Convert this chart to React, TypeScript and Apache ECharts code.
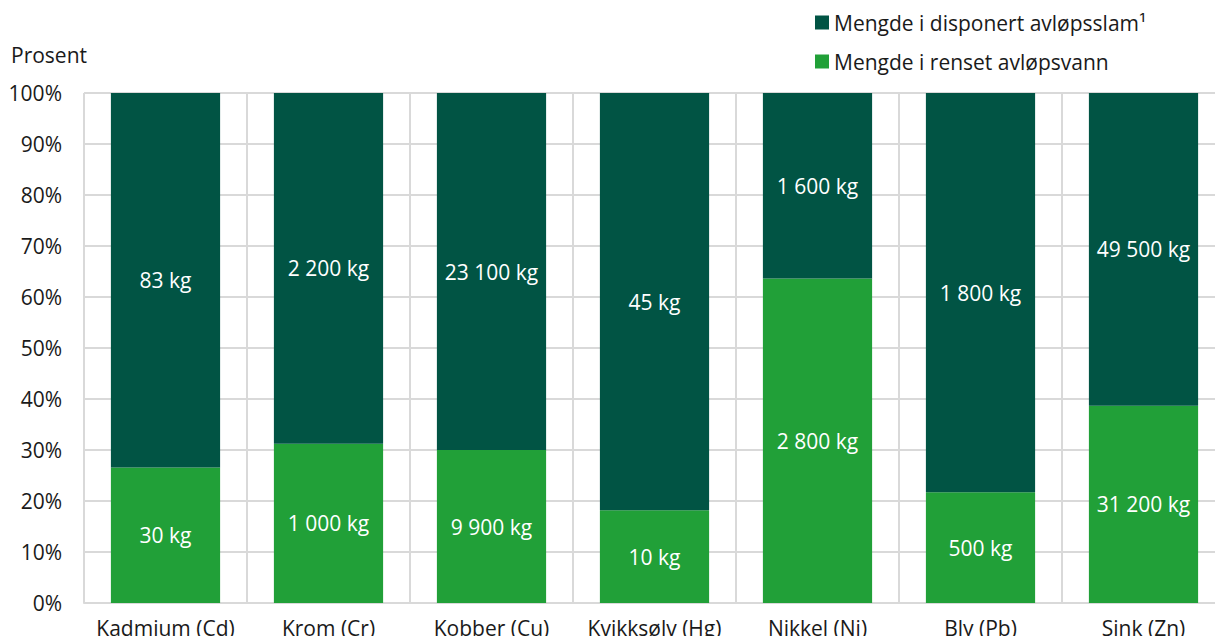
import React, { useEffect, useRef } from "react";
import * as echarts from "echarts";

const categories = [
  "Kadmium (Cd)",
  "Krom (Cr)",
  "Kobber (Cu)",
  "Kvikksølv (Hg)",
  "Nikkel (Ni)",
  "Bly (Pb)",
  "Sink (Zn)",
];
const sludgeKg = [83, 2200, 23100, 45, 1600, 1800, 49500];
const waterKg = [30, 1000, 9900, 10, 2800, 500, 31200];
const sludgeName = "Mengde i disponert avløpsslam¹";
const waterName = "Mengde i renset avløpsvann";

const fmtKg = (v: number) =>
  String(v).replace(/\B(?=(\d{3})+(?!\d))/g, " ") + " kg";

const FONT = "Open Sans";
const FS = 21;

export default function App() {
  const ref = useRef<HTMLDivElement>(null);
  useEffect(() => {
    if (!ref.current) return;
    const chart = echarts.init(ref.current, undefined, { renderer: "svg" });
    const totals = sludgeKg.map((s, i) => s + waterKg[i]);
    const waterPct = waterKg.map((w, i) => (w / totals[i]) * 100);
    const sludgePct = sludgeKg.map((s, i) => (s / totals[i]) * 100);
    const labelStyle = {
      show: true,
      position: "inside" as const,
      color: "#ffffff",
      fontSize: FS,
      fontFamily: FONT,
    };
    chart.setOption({
      animation: false,
      textStyle: { fontFamily: FONT },
      grid: {
        left: 84,
        width: 1141,
        top: 93,
        bottom: 33,
        containLabel: false,
        outerBoundsMode: "none",
      },
      legend: {
        orient: "vertical",
        left: 810,
        top: 7,
        itemWidth: 14,
        itemHeight: 14,
        itemGap: 18,
        icon: "rect",
        data: [sludgeName, waterName],
        textStyle: { fontSize: FS, color: "#1a1a1a", fontFamily: FONT, lineHeight: 21 },
      },
      graphic: [
        {
          type: "text",
          left: 11,
          top: 44,
          style: { text: "Prosent", fontSize: FS, fill: "#1a1a1a", fontFamily: FONT },
        },
      ],
      xAxis: {
        type: "category",
        data: categories,
        boundaryGap: true,
        axisLine: { show: true, lineStyle: { color: "#d9d9d9", width: 2 } },
        axisTick: { show: false },
        axisLabel: { color: "#1a1a1a", fontSize: FS, fontFamily: FONT, margin: 14, interval: 0 },
        splitLine: { show: true, lineStyle: { color: "#d9d9d9", width: 2 } },
      },
      yAxis: {
        type: "value",
        min: 0,
        max: 100,
        interval: 10,
        axisLine: { show: false },
        axisTick: { show: false },
        axisLabel: {
          formatter: "{value}%",
          color: "#1a1a1a",
          fontSize: FS,
          fontFamily: FONT,
          margin: 22,
        },
        splitLine: { show: true, lineStyle: { color: "#d9d9d9", width: 2 } },
      },
      series: [
        {
          name: waterName,
          type: "bar",
          stack: "total",
          barWidth: "67%",
          itemStyle: { color: "#21a038" },
          data: waterPct,
          label: { ...labelStyle, formatter: (p: any) => fmtKg(waterKg[p.dataIndex]) },
        },
        {
          name: sludgeName,
          type: "bar",
          stack: "total",
          barWidth: "67%",
          itemStyle: { color: "#015444" },
          data: sludgePct,
          label: { ...labelStyle, formatter: (p: any) => fmtKg(sludgeKg[p.dataIndex]) },
        },
      ],
    });
    return () => chart.dispose();
  }, []);
  return (
    <div
      ref={ref}
      style={{ position: "absolute", left: 0, top: 0, width: 1215, height: 636, background: "#fff" }}
    />
  );
}
